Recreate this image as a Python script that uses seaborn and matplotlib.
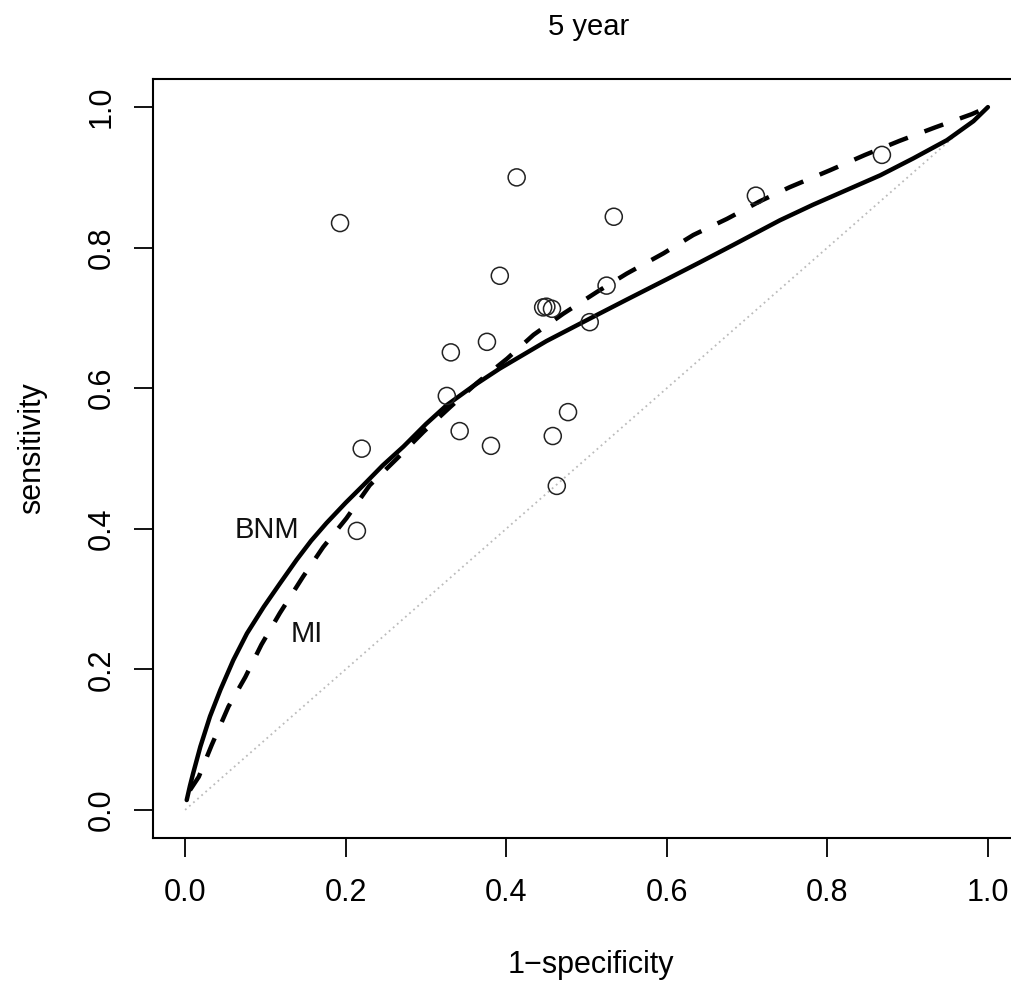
import numpy as np
import pandas as pd
import matplotlib
matplotlib.use("Agg")
import matplotlib.pyplot as plt
import seaborn as sns

# study points (1-specificity, sensitivity)
fpr_pts = [0.193, 0.413, 0.392, 0.446, 0.450, 0.457, 0.376, 0.331, 0.534, 0.711,
           0.525, 0.504, 0.326, 0.477, 0.342, 0.458, 0.381, 0.463, 0.868, 0.220, 0.214]
sens_pts = [0.835, 0.900, 0.760, 0.715, 0.716, 0.713, 0.666, 0.651, 0.844, 0.874,
            0.746, 0.694, 0.589, 0.566, 0.539, 0.532, 0.518, 0.461, 0.932, 0.514, 0.397]

# BNM summary curve (solid)
bnm_x = [0.002, 0.006, 0.010, 0.019, 0.031, 0.044, 0.060, 0.077, 0.098, 0.118, 0.139,
         0.157, 0.176, 0.200, 0.222, 0.246, 0.272, 0.300, 0.326, 0.360, 0.392, 0.450,
         0.504, 0.550, 0.600, 0.641, 0.683, 0.741, 0.782, 0.824, 0.866, 0.907, 0.949,
         0.982, 1.000]
bnm_y = [0.014, 0.034, 0.052, 0.090, 0.133, 0.171, 0.213, 0.251, 0.289, 0.322, 0.356,
         0.383, 0.408, 0.437, 0.462, 0.490, 0.517, 0.549, 0.576, 0.604, 0.628, 0.667,
         0.699, 0.726, 0.755, 0.779, 0.804, 0.839, 0.861, 0.882, 0.903, 0.927, 0.953,
         0.980, 1.000]

# MI summary curve (dashed)
mi_x = [0.006, 0.017, 0.033, 0.054, 0.075, 0.095, 0.118, 0.147, 0.172, 0.201, 0.230,
        0.264, 0.297, 0.330, 0.363, 0.401, 0.434, 0.471, 0.513, 0.550, 0.596, 0.633,
        0.675, 0.716, 0.753, 0.803, 0.847, 0.890, 0.934, 0.980, 1.000]
mi_y = [0.028, 0.047, 0.092, 0.147, 0.189, 0.235, 0.280, 0.332, 0.374, 0.415, 0.462,
        0.500, 0.538, 0.573, 0.607, 0.642, 0.676, 0.706, 0.737, 0.763, 0.792, 0.818,
        0.841, 0.866, 0.886, 0.910, 0.932, 0.952, 0.971, 0.990, 1.000]

ticks = [0.0, 0.2, 0.4, 0.6, 0.8, 1.0]
tick_labels = ["0.0", "0.2", "0.4", "0.6", "0.8", "1.0"]

sns.set_style("ticks")
plt.rcParams['font.family'] = ['Liberation Sans', 'DejaVu Sans']

W, H = 1012, 983
fig = plt.figure(figsize=(W / 100, H / 100), dpi=100)
ax = fig.add_axes([153 / W, (H - 838) / H, (1020 - 153) / W, (838 - 79) / H])

# chance diagonal
diag = pd.DataFrame({"x": [0, 1], "y": [0, 1]})
sns.lineplot(data=diag, x="x", y="y", ax=ax, color="#bbbbbb", lw=1.3,
             linestyle=(0, (1, 2)), sort=False, estimator=None)

bnm = pd.DataFrame({"x": bnm_x, "y": bnm_y})
sns.lineplot(data=bnm, x="x", y="y", ax=ax, color="black", lw=3.2,
             sort=False, estimator=None)

mi = pd.DataFrame({"x": mi_x, "y": mi_y})
sns.lineplot(data=mi, x="x", y="y", ax=ax, color="black", lw=3.2,
             linestyle=(0, (4.5, 4)), sort=False, estimator=None)

pts = pd.DataFrame({"fpr": fpr_pts, "sens": sens_pts})
sns.scatterplot(data=pts, x="fpr", y="sens", ax=ax, marker="o", s=150,
                facecolor="none", edgecolor="#222222", linewidth=1.1, zorder=3)

ax.text(0.102, 0.398, "BNM", fontsize=21, ha="center", va="center", color="#111111")
ax.text(0.151, 0.250, "MI", fontsize=21, ha="center", va="center", color="#111111")

ax.set_xlim(-0.04, 1.04)
ax.set_ylim(-0.04, 1.04)
ax.set_xticks(ticks)
ax.set_xticklabels(tick_labels, fontsize=22, color="black")
ax.set_yticks(ticks)
ax.set_yticklabels(tick_labels, fontsize=22, rotation=90, va="center", color="black")
ax.tick_params(axis="both", direction="out", length=14, width=1.3, color="black")
ax.tick_params(axis="x", pad=15)
ax.tick_params(axis="y", pad=12)
ax.set_xlabel("")
ax.set_ylabel("")
for sp in ax.spines.values():
    sp.set_visible(True)
    sp.set_linewidth(1.5)
    sp.set_color("black")

fig.text(589 / W, 1 - 27 / H, "5 year", fontsize=21, ha="center", va="center",
         color="black")
fig.text(591 / W, 1 - 965 / H, "1\u2212specificity", fontsize=22, ha="center",
         va="center", color="black")
fig.text(32 / W, 1 - 448 / H, "sensitivity", fontsize=22, ha="center", va="center",
         rotation=90, color="black")

fig.savefig("out.png", dpi=100)
